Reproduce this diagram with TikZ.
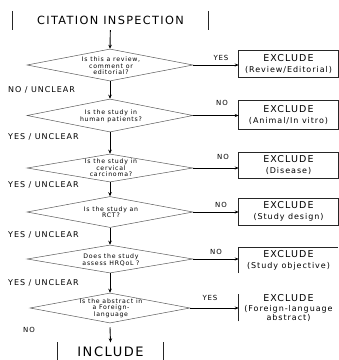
\documentclass[tikz,border=0pt]{standalone}
\usepackage{fontspec}
\setmainfont{DejaVu Sans}[LetterSpace=12]
\usetikzlibrary{shapes.geometric,arrows.meta}
\newcommand{\subf}{\fontsize{8}{9}\selectfont}
\begin{document}
\begin{tikzpicture}[x=1pt,y=-1pt]
\tikzset{
  dec/.style={diamond, draw=black!65, line width=0.5pt, minimum width=166pt, inner sep=0pt},
  qtext/.style={align=center, font=\fontsize{6.2}{6.6}\selectfont, inner sep=0pt},
  exbox/.style={minimum width=99pt, inner sep=0pt, align=center, font=\fontsize{9.5}{11}\selectfont},
  side/.style={anchor=west, font=\fontsize{8}{9}\selectfont, inner sep=0pt},
  ans/.style={font=\fontsize{7}{8}\selectfont, inner sep=0pt},
  varr/.style={-{Stealth[length=4pt,width=3.5pt]}, line width=0.9pt},
  harr/.style={-{Stealth[length=4pt,width=3pt]}, line width=0.6pt},
  boxline/.style={line width=0.6pt, draw=black!85}
}
\useasboundingbox (0,0) rectangle (339,360);

% start / end boxes
\node[font=\fontsize{11.3}{12}\selectfont, minimum width=195pt, minimum height=19pt, inner sep=0pt] (top) at (110.5,20.5) {CITATION INSPECTION};
\draw[boxline] (top.north west) -- (top.south west);
\draw[boxline] (top.north east) -- (top.south east);

\node[font=\fontsize{13}{14}\selectfont, minimum width=105pt, minimum height=18pt, inner sep=0pt] (inc) at (110.5,351.5) {INCLUDE};
\draw[boxline] (inc.north west) -- (inc.south west);
\draw[boxline] (inc.north east) -- (inc.south east);

% decisions
\node[dec, minimum height=32pt] (d1) at (110,65) {};
\node[dec, minimum height=33pt] (d2) at (110,115.5) {};
\node[dec, minimum height=28pt] (d3) at (110,168) {};
\node[dec, minimum height=31pt] (d4) at (110,212) {};
\node[dec, minimum height=28pt] (d5) at (110,259) {};
\node[dec, minimum height=30pt, minimum width=160pt] (d6) at (110,308) {};

\node[qtext] (t1) at (111,66) {Is this a review,\\comment or\\editorial?};
\node[qtext] (t2) at (111,116) {Is the study in\\human patients?};
\node[qtext] (t3) at (111,168) {Is the study in\\cervical\\carcinoma?};
\node[qtext] (t4) at (111,212) {Is the study an\\RCT?};
\node[qtext] (t5) at (111,260) {Does the study\\assess HRQoL ?};
\node[qtext] (t6) at (111,308) {Is the abstract in\\a Foreign-\\language};

% exclude boxes
\node[exbox, minimum height=27pt] (b1) at (288.5,63.5) {EXCLUDE\\{\subf (Review/Editorial)}};
\node[exbox, minimum height=29pt] (b2) at (288.5,114.5) {EXCLUDE\\{\subf (Animal/In vitro)}};
\node[exbox, minimum height=26pt] (b3) at (288.5,165) {EXCLUDE\\{\subf (Disease)}};
\node[exbox, minimum height=27pt] (b4) at (288.5,211.5) {EXCLUDE\\{\subf (Study design)}};
\node[exbox, minimum height=26pt] (b5) at (288.5,260) {EXCLUDE\\{\subf (Study objective)}};
\node[exbox, minimum height=25pt] (b6) at (288.5,307.5) {EXCLUDE\\[-1pt]{\subf (Foreign-language}\\[-2pt]{\subf abstract)}};

\draw[boxline] (b1.north west) rectangle (b1.south east);
\draw[boxline] (b2.north west) rectangle (b2.south east);
\draw[boxline] (b3.north west) rectangle (b3.south east);
\draw[boxline] (b4.north west) rectangle (b4.south east);
\draw[boxline] (b5.south west) -- (b5.north west) -- (b5.north east);
\draw[boxline] (b6.south west) -- (b6.north west);

% vertical flow
\draw[varr] (top) -- (d1.north);
\draw[varr] (d1.south) -- (d2.north);
\draw[varr] (d2.south) -- (d3.north);
\draw[varr] (d3.south) -- (d4.north);
\draw[varr] (d4.south) -- (d5.north);
\draw[varr] (d5.south) -- (d6.north);
\draw[varr] (d6.south) ++(0,4) -- (inc.north);

% horizontal exits
\draw[harr] (d1.east) -- (d1.east -| b1.west);
\draw[harr] (d2.east) -- (d2.east -| b2.west);
\draw[harr] (d3.east) -- (d3.east -| b3.west);
\draw[harr] (d4.east) -- (d4.east -| b4.west);
\draw[harr] (d5.east) -- (d5.east -| b5.west);
\draw[harr] (d6.east) -- (d6.east -| b6.west);

% answer labels
\node[ans] (y1) at (221,58) {YES};
\node[ans] (n2) at (222,103) {NO};
\node[ans] (n3) at (223,157) {NO};
\node[ans] (n4) at (221,205) {NO};
\node[ans] (n5) at (216,252) {NO};
\node[ans] (y6) at (210,298) {YES};

\node[side] (s1) at (8,90) {NO / UNCLEAR};
\node[side] (s2) at (8,137) {YES / UNCLEAR};
\node[side] (s3) at (8,185) {YES / UNCLEAR};
\node[side] (s4) at (8,235) {YES / UNCLEAR};
\node[side] (s5) at (8,283) {YES / UNCLEAR};
\node[ans] (s6) at (29,330) {NO};
\end{tikzpicture}
\end{document}
